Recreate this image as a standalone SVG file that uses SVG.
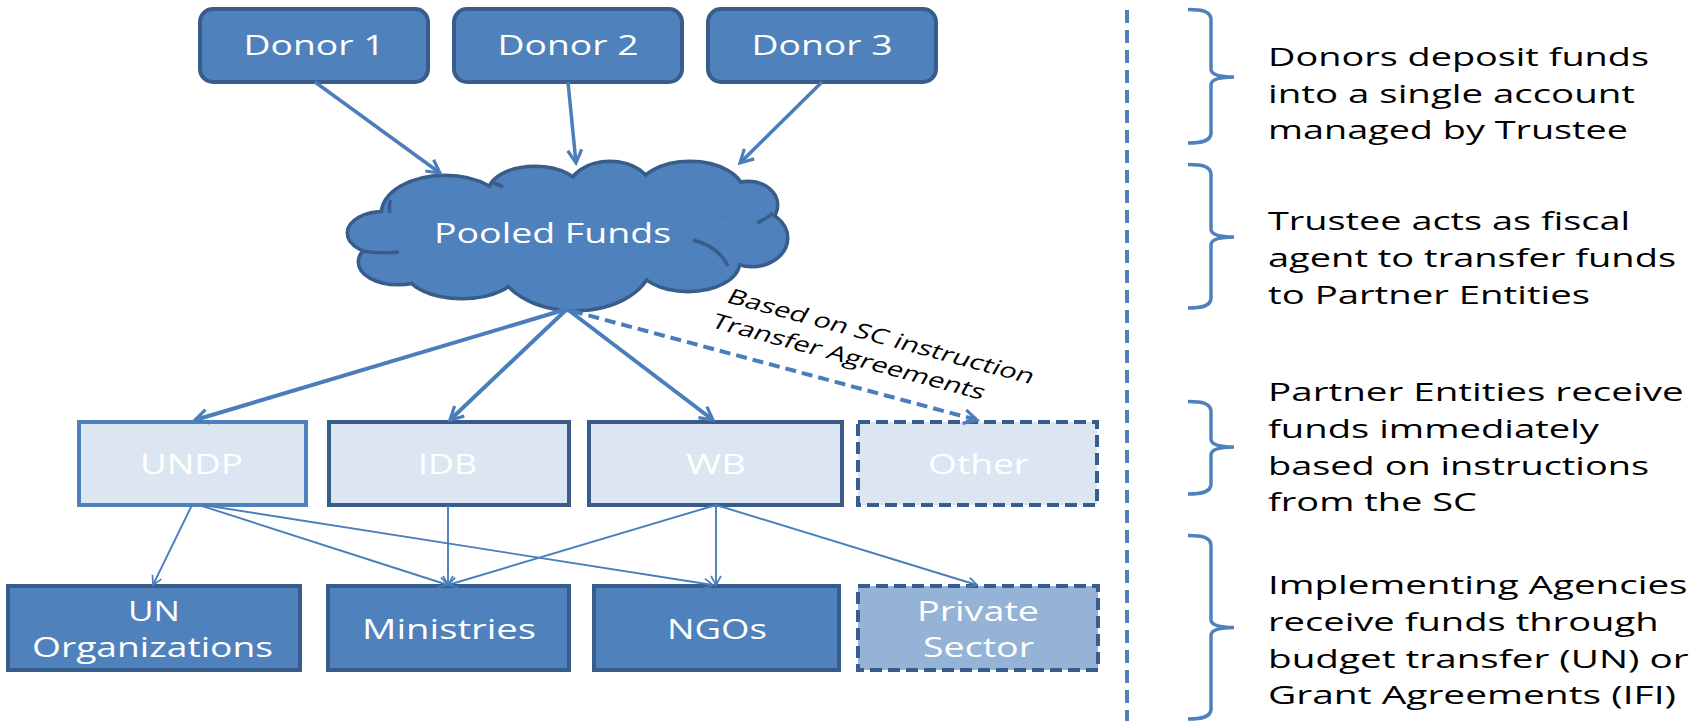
<svg xmlns="http://www.w3.org/2000/svg" width="1704" height="721" viewBox="0 0 1704 721">
<defs>
<style>
text{font-family:"Open Sans","Liberation Sans",sans-serif;}
.wt{fill:#FFFFFF;font-size:26.5px;text-anchor:middle;}
.note{fill:#000000;font-size:25.5px;}
.lab{fill:#000000;font-size:20.5px;}
.dark{fill:#4F81BD;stroke:#385D8A;stroke-width:4;}
.light{fill:#DCE6F2;stroke:#385D8A;stroke-width:4;}
.ps{fill:#95B3D7;stroke:#385D8A;stroke-width:4;}
.dash{stroke-dasharray:12 6;}
.conn{fill:none;stroke:#4A7EBB;}
.thick{stroke-width:3.5;}
.mid{stroke-width:4;}
.thin{stroke-width:1.9;}
.brace{fill:none;stroke:#4F81BD;stroke-width:3.5;}
.cs{fill:#385D8A;stroke:#385D8A;stroke-width:7;}
.cf{fill:#4F81BD;}
.ci{fill:none;stroke:#385D8A;stroke-width:3.5;}
</style>
<marker id="ah" markerUnits="userSpaceOnUse" markerWidth="20" markerHeight="20" viewBox="0 0 20 20" refX="17" refY="10" orient="auto">
<path d="M4,3 L17,10 L4,17" fill="none" stroke="#4A7EBB" stroke-width="3.2"/>
</marker>
<marker id="ahs" markerUnits="userSpaceOnUse" markerWidth="14" markerHeight="14" viewBox="0 0 14 14" refX="12" refY="7" orient="auto">
<path d="M3,2 L12,7 L3,12" fill="none" stroke="#4A7EBB" stroke-width="1.7"/>
</marker>
</defs>
<rect x="0" y="0" width="1704" height="721" fill="#FFFFFF"/>

<g id="donor-1"><rect class="dark" x="200" y="9" width="228" height="73" rx="13"/><text class="wt" x="314" y="55" textLength="141" lengthAdjust="spacingAndGlyphs">Donor 1</text></g>
<g id="donor-2"><rect class="dark" x="454" y="9" width="228" height="73" rx="13"/><text class="wt" x="568" y="55" textLength="141" lengthAdjust="spacingAndGlyphs">Donor 2</text></g>
<g id="donor-3"><rect class="dark" x="708" y="9" width="228" height="73" rx="13"/><text class="wt" x="822" y="55" textLength="141" lengthAdjust="spacingAndGlyphs">Donor 3</text></g>

<g id="pooled-funds">
<g class="cs">
<ellipse cx="385" cy="233" rx="36" ry="20"/>
<ellipse cx="398" cy="262" rx="38" ry="21"/>
<ellipse cx="462" cy="270" rx="55" ry="27"/>
<ellipse cx="575" cy="262" rx="75" ry="47"/>
<ellipse cx="688" cy="262" rx="50" ry="28"/>
<ellipse cx="752" cy="238" rx="34" ry="27"/>
<ellipse cx="748" cy="205" rx="28" ry="22"/>
<ellipse cx="690" cy="193" rx="52" ry="30"/>
<ellipse cx="610" cy="190" rx="40" ry="27"/>
<ellipse cx="535" cy="192" rx="45" ry="24"/>
<ellipse cx="445" cy="214" rx="62" ry="37"/>
</g>
<g class="cf">
<ellipse cx="385" cy="233" rx="36" ry="20"/>
<ellipse cx="398" cy="262" rx="38" ry="21"/>
<ellipse cx="462" cy="270" rx="55" ry="27"/>
<ellipse cx="575" cy="262" rx="75" ry="47"/>
<ellipse cx="688" cy="262" rx="50" ry="28"/>
<ellipse cx="752" cy="238" rx="34" ry="27"/>
<ellipse cx="748" cy="205" rx="28" ry="22"/>
<ellipse cx="690" cy="193" rx="52" ry="30"/>
<ellipse cx="610" cy="190" rx="40" ry="27"/>
<ellipse cx="535" cy="192" rx="45" ry="24"/>
<ellipse cx="445" cy="214" rx="62" ry="37"/>
<ellipse cx="568" cy="236" rx="172" ry="46"/>
</g>
<path class="ci" d="M693,240 Q718,246 728,266"/>
<path class="ci" d="M361,251 Q380,254 399,252"/>
<path class="ci" d="M390,213 Q388,206 391,200"/>
<path class="ci" d="M757,223 Q766,219 773,213"/>
<path class="ci" d="M493,183 Q498,184 503,187"/>
<text class="wt" x="552.5" y="243" textLength="237" lengthAdjust="spacingAndGlyphs">Pooled Funds</text>
</g>

<g id="undp"><rect x="79" y="422" width="227" height="83" fill="#DCE6F2" stroke="#4F81BD" stroke-width="4"/><text class="wt" x="191.5" y="474" textLength="103" lengthAdjust="spacingAndGlyphs">UNDP</text></g>
<g id="idb"><rect class="light" x="329" y="422" width="240" height="83"/><text class="wt" x="447.5" y="474" textLength="59" lengthAdjust="spacingAndGlyphs">IDB</text></g>
<g id="wb"><rect class="light" x="589" y="422" width="253" height="83"/><text class="wt" x="716" y="474" textLength="60" lengthAdjust="spacingAndGlyphs">WB</text></g>
<g id="other"><rect class="light dash" x="858" y="422" width="239" height="83"/><text class="wt" x="978.5" y="474" textLength="101" lengthAdjust="spacingAndGlyphs">Other</text></g>

<g id="un-organizations"><rect class="dark" x="8" y="586" width="292" height="84"/><text class="wt" x="154" y="621" textLength="52" lengthAdjust="spacingAndGlyphs">UN</text><text class="wt" x="152.5" y="657" textLength="241" lengthAdjust="spacingAndGlyphs">Organizations</text></g>
<g id="ministries"><rect class="dark" x="328" y="586" width="241" height="84"/><text class="wt" x="449" y="639" textLength="174" lengthAdjust="spacingAndGlyphs">Ministries</text></g>
<g id="ngos"><rect class="dark" x="594" y="586" width="245" height="84"/><text class="wt" x="717" y="639" textLength="100" lengthAdjust="spacingAndGlyphs">NGOs</text></g>
<g id="private-sector"><rect class="ps dash" x="858" y="586" width="240" height="84"/><text class="wt" x="978" y="621" textLength="122" lengthAdjust="spacingAndGlyphs">Private</text><text class="wt" x="978.5" y="657" textLength="111" lengthAdjust="spacingAndGlyphs">Sector</text></g>

<g id="connectors">
<line class="conn thick" x1="315" y1="82" x2="440" y2="173" marker-end="url(#ah)"/>
<line class="conn thick" x1="568" y1="82" x2="576" y2="163" marker-end="url(#ah)"/>
<line class="conn thick" x1="822" y1="82" x2="740" y2="163" marker-end="url(#ah)"/>
<line class="conn mid" x1="567" y1="309" x2="195" y2="420" marker-end="url(#ah)"/>
<line class="conn mid" x1="567" y1="309" x2="450" y2="420" marker-end="url(#ah)"/>
<line class="conn mid" x1="567" y1="309" x2="713" y2="420" marker-end="url(#ah)"/>
<line class="conn mid" x1="572" y1="311" x2="977" y2="420" stroke-dasharray="11 6" marker-end="url(#ah)"/>
<line class="conn thin" x1="192" y1="505" x2="153" y2="585" marker-end="url(#ahs)"/>
<line class="conn thin" x1="199" y1="505" x2="448" y2="585" marker-end="url(#ahs)"/>
<line class="conn thin" x1="203" y1="505" x2="713" y2="585" marker-end="url(#ahs)"/>
<line class="conn thin" x1="448" y1="505" x2="448" y2="585" marker-end="url(#ahs)"/>
<line class="conn thin" x1="716" y1="505" x2="448" y2="585" marker-end="url(#ahs)"/>
<line class="conn thin" x1="716" y1="505" x2="716" y2="585" marker-end="url(#ahs)"/>
<line class="conn thin" x1="716" y1="505" x2="977" y2="585" marker-end="url(#ahs)"/>
</g>

<g id="label-sc" transform="translate(725,302) scale(1.45,1) rotate(21.3)">
<text class="lab" x="0" y="0" textLength="226" lengthAdjust="spacingAndGlyphs">Based on SC instruction</text>
<text class="lab" x="-1" y="27" textLength="201" lengthAdjust="spacingAndGlyphs">Transfer Agreements</text>
</g>

<g id="divider"><line x1="1127" y1="10" x2="1127" y2="721" stroke="#4F81BD" stroke-width="4" stroke-dasharray="13 7"/></g>

<g id="braces">
<path class="brace" d="M1188,9.5 C1202,9.5 1211,11 1211,20 L1211,69 C1211,75 1220,77 1234,77 C1220,77 1211,79 1211,85 L1211,133 C1211,141 1202,143 1188,143"/>
<path class="brace" d="M1188,164.5 C1202,164.5 1211,166 1211,175 L1211,229 C1211,235 1220,237 1234,237 C1220,237 1211,239 1211,245 L1211,298 C1211,306 1202,308 1188,308"/>
<path class="brace" d="M1188,401.5 C1202,401.5 1211,403 1211,412 L1211,439 C1211,445 1220,447 1234,447 C1220,447 1211,449 1211,455 L1211,484 C1211,492 1202,494 1188,494"/>
<path class="brace" d="M1188,535.5 C1202,535.5 1211,537 1211,546 L1211,619.5 C1211,625.5 1220,627.5 1234,627.5 C1220,627.5 1211,629.5 1211,635.5 L1211,709 C1211,717 1202,719 1188,719"/>
</g>

<g id="notes">
<text class="note" x="1268" y="66" textLength="381" lengthAdjust="spacingAndGlyphs">Donors deposit funds</text>
<text class="note" x="1268" y="102.5" textLength="367" lengthAdjust="spacingAndGlyphs">into a single account</text>
<text class="note" x="1268" y="139" textLength="360" lengthAdjust="spacingAndGlyphs">managed by Trustee</text>
<text class="note" x="1268" y="230" textLength="362" lengthAdjust="spacingAndGlyphs">Trustee acts as fiscal</text>
<text class="note" x="1268" y="267" textLength="408" lengthAdjust="spacingAndGlyphs">agent to transfer funds</text>
<text class="note" x="1268" y="304" textLength="322" lengthAdjust="spacingAndGlyphs">to Partner Entities</text>
<text class="note" x="1268" y="401" textLength="415.6" lengthAdjust="spacingAndGlyphs">Partner Entities receive</text>
<text class="note" x="1268" y="438" textLength="331" lengthAdjust="spacingAndGlyphs">funds immediately</text>
<text class="note" x="1268" y="474.5" textLength="381" lengthAdjust="spacingAndGlyphs">based on instructions</text>
<text class="note" x="1268" y="511" textLength="209" lengthAdjust="spacingAndGlyphs">from the SC</text>
<text class="note" x="1268" y="594" textLength="419.5" lengthAdjust="spacingAndGlyphs">Implementing Agencies</text>
<text class="note" x="1268" y="631" textLength="390.6" lengthAdjust="spacingAndGlyphs">receive funds through</text>
<text class="note" x="1268" y="667.5" textLength="420.6" lengthAdjust="spacingAndGlyphs">budget transfer (UN) or</text>
<text class="note" x="1268" y="704" textLength="408" lengthAdjust="spacingAndGlyphs">Grant Agreements (IFI)</text>
</g>
</svg>
